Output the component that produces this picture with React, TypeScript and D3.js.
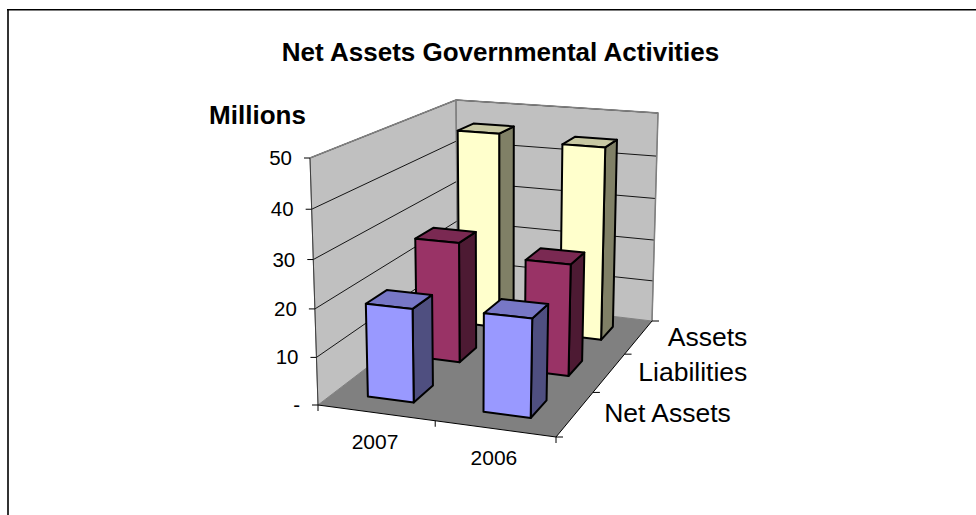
import React from "react";
import * as d3 from "d3";

const categories = ["2007", "2006"];
const seriesNames = ["Net Assets", "Liabilities", "Assets"];
const netAssets = [19.6, 20.3];
const liabilities = [26.8, 24.5];
const assets = [46, 44.6];
const seriesValues = [netAssets, liabilities, assets];
const valueTicks = [0, 10, 20, 30, 40, 50];
const title = "Net Assets Governmental Activities";
const axisTitle = "Millions";

type Pt = [number, number];
const W = 976, H = 515;
// Scene corners: front-left, front-right, back-right, back-left
const floorCorners: Pt[] = [[318, 405], [556, 437], [652, 321], [458, 298]];
const topCorners: Pt[] = [[310, 158], [562, 177], [658, 113], [456, 100]];

function homography(q: Pt[]) {
  const [[x0, y0], [x1, y1], [x2, y2], [x3, y3]] = q;
  const dx1 = x1 - x2, dx2 = x3 - x2, sx = x0 - x1 + x2 - x3;
  const dy1 = y1 - y2, dy2 = y3 - y2, sy = y0 - y1 + y2 - y3;
  const den = dx1 * dy2 - dx2 * dy1;
  const g = (sx * dy2 - dx2 * sy) / den;
  const h = (dx1 * sy - sx * dy1) / den;
  const a = x1 - x0 + g * x1, b = x3 - x0 + h * x3, c = x0;
  const d = y1 - y0 + g * y1, e = y3 - y0 + h * y3, f = y0;
  return (u: number, v: number): Pt => {
    const w = g * u + h * v + 1;
    return [(a * u + b * v + c) / w, (d * u + e * v + f) / w];
  };
}
const floorH = homography(floorCorners);
const topH = homography(topCorners);
const yScale = d3.scaleLinear().domain([0, 50]).range([0, 1]);
const PERSPECTIVE = 0.047;
const project = (u: number, v: number, val: number): Pt => {
  const s = yScale(val);
  const t = s / (1 + PERSPECTIVE * (1 - s));
  const a = floorH(u, v), b = topH(u, v);
  return [a[0] + (b[0] - a[0]) * t, a[1] + (b[1] - a[1]) * t];
};
const uScale = d3.scaleBand<string>().domain(categories).range([-0.005, 0.995]).paddingInner(0.6).paddingOuter(0.3);
const vScale = d3.scaleBand<string>().domain(seriesNames).range([0, 1]).paddingInner(0.6).paddingOuter(0.3);

const poly = (pts: Pt[]) => d3.line()(pts)! + "Z";
const seriesColors = [
  { front: "#9999FF", top: "#7777C6", side: "#4F4F80" },
  { front: "#993366", top: "#7A2952", side: "#4D1A33" },
  { front: "#FFFFCC", top: "#C8C8A3", side: "#808066" },
];
const tickFmt = (v: number) => (v === 0 ? "-" : String(v));
const font = "'Liberation Sans', Arial, sans-serif";

export default function App() {
  const bars: React.ReactNode[] = [];
  [2, 1, 0].forEach((si) => {
    const v0 = vScale(seriesNames[si])!, v1 = v0 + vScale.bandwidth();
    categories.forEach((cat, ci) => {
      const u0 = uScale(cat)!, u1 = u0 + uScale.bandwidth();
      const val = seriesValues[si][ci];
      const c = seriesColors[si];
      const common = { stroke: "#000", strokeWidth: 2, strokeLinejoin: "round" as const };
      bars.push(
        <g key={`${si}-${ci}`}>
          <path d={poly([project(u1, v0, 0), project(u1, v1, 0), project(u1, v1, val), project(u1, v0, val)])} fill={c.side} {...common} />
          <path d={poly([project(u0, v0, val), project(u1, v0, val), project(u1, v1, val), project(u0, v1, val)])} fill={c.top} {...common} />
          <path d={poly([project(u0, v0, 0), project(u1, v0, 0), project(u1, v0, val), project(u0, v0, val)])} fill={c.front} {...common} />
        </g>
      );
    });
  });
  return (
    <svg width={W} height={H} style={{ position: "absolute", left: 0, top: 0 }} fontFamily={font}>
      <rect width={W} height={H} fill="#fff" />
      <line x1={8} x2={8} y1={9} y2={H} stroke="#333" strokeWidth={2} />
      <line x1={7} x2={W} y1={9.7} y2={9.7} stroke="#000" strokeWidth={1.4} />
      <text x={500.5} y={61} textAnchor="middle" fontSize={26} fontWeight="bold">{title}</text>
      <text x={257.5} y={124} textAnchor="middle" fontSize={26} fontWeight="bold">{axisTitle}</text>

      <path d={poly([project(0, 0, 0), project(0, 1, 0), project(0, 1, 50), project(0, 0, 50)])} fill="#C0C0C0" stroke="#808080" strokeWidth={1} />
      <path d={poly([project(0, 1, 0), project(1, 1, 0), project(1, 1, 50), project(0, 1, 50)])} fill="#C0C0C0" stroke="#808080" strokeWidth={1} />
      <path d={poly([project(0, 0, 0), project(1, 0, 0), project(1, 1, 0), project(0, 1, 0)])} fill="#808080" />

      {valueTicks.filter((t) => t > 0).map((t) => {
        const a = project(0, 0, t), b = project(0, 1, t), c = project(1, 1, t);
        return <path key={t} d={d3.line()([a, b, c])!} fill="none" stroke="#000" strokeWidth={0.9} />;
      })}
      <path d={d3.line()([project(0, 0, 0), project(0, 0, 50)])!} stroke="#404040" strokeWidth={1} />
      <path d={d3.line()([project(0, 1, 0), project(0, 1, 50)])!} stroke="#808080" strokeWidth={1.5} />
      <path d={d3.line()([project(0, 1, 50), project(1, 1, 50), project(1, 1, 0)])!} fill="none" stroke="#808080" strokeWidth={1.5} />
      <path d={d3.line()([project(0, 1, 50), project(0, 0, 50)])!} fill="none" stroke="#808080" strokeWidth={1.5} />

      {valueTicks.map((t) => {
        const [x, y] = project(0, 0, t);
        return (
          <g key={t}>
            <line x1={x - 6} x2={x} y1={y} y2={y} stroke="#000" />
            <text x={x - 18} y={y + 7} textAnchor="end" fontSize={20.5}>{tickFmt(t)}</text>
          </g>
        );
      })}

      <path d={d3.line()([project(0, 0, 0), project(1, 0, 0), project(1, 1, 0)])!} fill="none" stroke="#000" strokeWidth={1} />
      {[0, 0.5, 1].map((u) => {
        const [x, y] = project(u, 0, 0);
        return <line key={u} x1={x} x2={x} y1={y} y2={y + 6} stroke="#000" />;
      })}
      {[0, 1 / 3, 2 / 3, 1].map((v) => {
        const [x, y] = project(1, v, 0);
        return <line key={v} x1={x} x2={x + 7} y1={y} y2={y} stroke="#000" />;
      })}

      {bars}

      {categories.map((cat) => {
        const u = uScale(cat)! + uScale.bandwidth() / 2;
        const [x, y] = project(u, 0, 0);
        return <text key={cat} x={x} y={y + 36} textAnchor="middle" fontSize={21}>{cat}</text>;
      })}
      {seriesNames.map((s) => {
        const v = vScale(s)! + vScale.bandwidth() / 2;
        const [x, y] = project(1, v, 0);
        return <text key={s} x={x + 29} y={y + 8.5} fontSize={26.5}>{s}</text>;
      })}
    </svg>
  );
}
